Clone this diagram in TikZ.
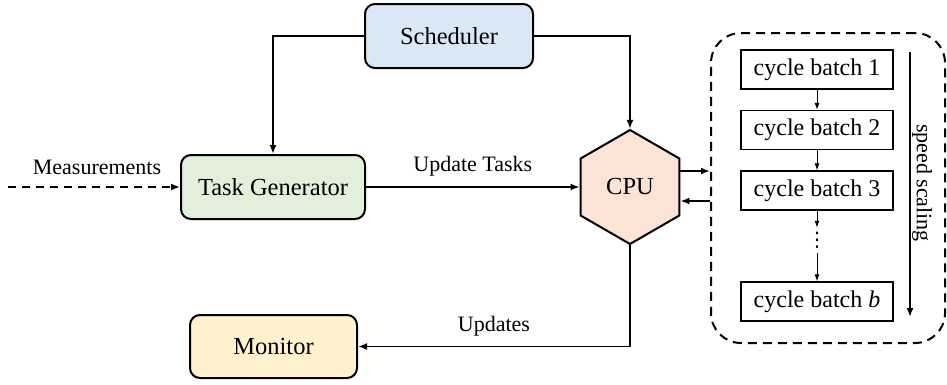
\documentclass[tikz,border=0pt]{standalone}
\usepackage{fontspec}
\setmainfont{Liberation Serif}
\newfontfamily\dvfont{DejaVu Sans}
\usetikzlibrary{shapes.geometric,arrows.meta}
\definecolor{schedfill}{HTML}{DAE8F5}
\definecolor{genfill}{HTML}{E2EFDA}
\definecolor{cpufill}{HTML}{FBE4D6}
\definecolor{monfill}{HTML}{FFF2CC}
\tikzset{
  mainbox/.style={draw=black, line width=2pt, rounded corners=10pt, inner sep=0pt, font=\fontsize{24.5}{28}\selectfont},
  batchbox/.style={draw=black, line width=1.3pt, fill=white, minimum width=152pt, minimum height=39pt, inner sep=0pt, font=\fontsize{24}{28}\selectfont},
  arr/.style={line width=1.8pt, -{Latex[length=9pt,width=7pt]}},
  sarr/.style={line width=1pt, -{Latex[length=7pt,width=5pt]}},
  lbl/.style={font=\fontsize{22}{26}\selectfont, inner sep=0pt},
}
\begin{document}
\begin{tikzpicture}[x=1pt,y=-1pt]
\useasboundingbox (0,0) rectangle (947,384);

% main nodes
\node[mainbox, fill=schedfill, minimum width=168pt, minimum height=64pt] (sched) at (449,36) {Scheduler};
\node[mainbox, fill=genfill, minimum width=184pt, minimum height=64pt] (gen) at (273,187) {Task Generator};
\node[mainbox, fill=monfill, minimum width=167pt, minimum height=63pt] (mon) at (273.5,346.5) {Monitor};
\node[regular polygon, regular polygon sides=6, shape border rotate=30, draw=black, line width=2pt, fill=cpufill, minimum size=114pt, inner sep=0pt, font=\fontsize{24.5}{28}\selectfont] (cpu) at (630,187) {CPU};

% dashed group
\node[draw=black, line width=2pt, dash pattern=on 9pt off 6pt, rounded corners=30pt, minimum width=234pt, minimum height=310pt, inner sep=0pt] (grp) at (828,188) {};

% cycle batches
\node[batchbox] (b1) at (817,69.5) {cycle batch 1};
\node[batchbox] (b2) at (817,130) {cycle batch 2};
\node[batchbox] (b3) at (817,190.5) {cycle batch 3};
\node[inner sep=0pt, minimum height=25pt, font=\dvfont\fontsize{20}{24}\selectfont] (dots) at (817,240.5) {⋮};
\node[batchbox] (bb) at (817,301.5) {cycle batch \textit{b}};

\draw[sarr] (b1) -- (b2);
\draw[sarr] (b2) -- (b3);
\draw[sarr] (b3) -- (dots);
\draw[sarr] (dots) -- (bb);

% speed scaling
\coordinate (ss1) at (910,52);
\coordinate (ss2) at (910,317);
\draw[arr] (ss1) -- (ss2);
\node[lbl, rotate=-90] (sslbl) at (922,183) {speed scaling};

% connectors
\draw[arr] (sched.west) -| (gen.north);
\draw[arr] (sched.east) -| (cpu.north);
\draw[arr] (gen.east) -- node[lbl, above=10pt] (ut) {Update Tasks} (cpu.west);

\coordinate (mstart) at (8,187);
\draw[line width=1.8pt, dash pattern=on 8pt off 6pt, -{Latex[length=9pt,width=7pt]}] (mstart) -- (gen.west);
\node[lbl] (meas) at (97,167) {Measurements};

\coordinate (o1) at (grp.west |- 0,171);
\coordinate (o2) at (grp.west |- 0,201);
\draw[arr] (cpu.east |- o1) -- (o1);
\draw[arr] (o2) -- (cpu.east |- o2);

\coordinate (corner) at (cpu.south |- mon.east);
\draw[arr] (cpu.south) -- (corner) -- node[lbl, above=9pt] (upd) {Updates} (mon.east);
\end{tikzpicture}
\end{document}
